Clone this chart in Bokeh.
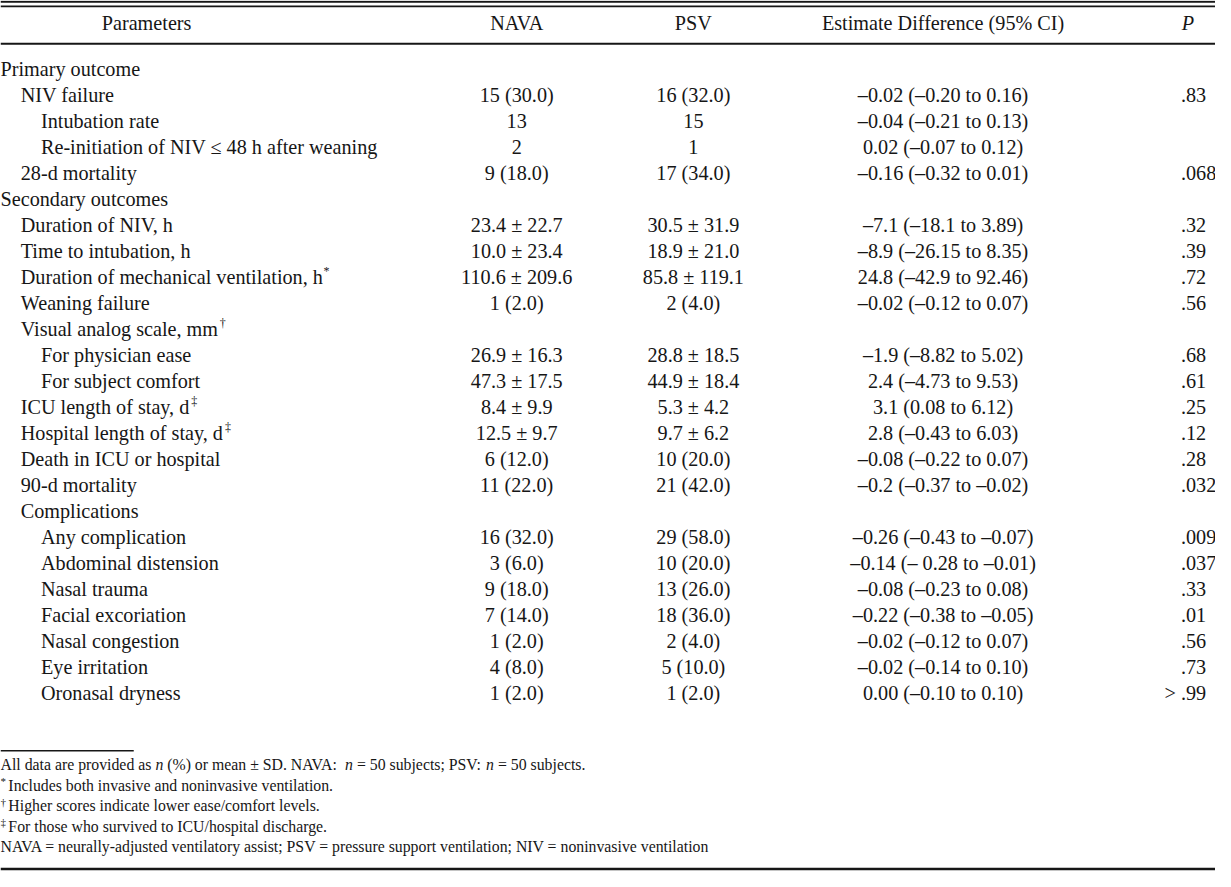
from bokeh.plotting import figure
from bokeh.models import Range1d, ColumnDataSource
from bokeh.embed import file_html
from bokeh.resources import INLINE
from bokeh.core.properties import value

# ---------------- data ----------------
headers = ["Parameters", "NAVA", "PSV", "Estimate Difference (95% CI)", "P"]

params = [
    "Primary outcome", "NIV failure", "Intubation rate",
    "Re-initiation of NIV \u2264 48 h after weaning", "28-d mortality",
    "Secondary outcomes", "Duration of NIV, h", "Time to intubation, h",
    "Duration of mechanical ventilation, h", "Weaning failure",
    "Visual analog scale, mm", "For physician ease", "For subject comfort",
    "ICU length of stay, d", "Hospital length of stay, d",
    "Death in ICU or hospital", "90-d mortality", "Complications",
    "Any complication", "Abdominal distension", "Nasal trauma",
    "Facial excoriation", "Nasal congestion", "Eye irritation",
    "Oronasal dryness",
]
levels = [0, 1, 2, 2, 1, 0, 1, 1, 1, 1, 1, 2, 2, 1, 1, 1, 1, 1, 2, 2, 2, 2, 2, 2, 2]
marks = ["", "", "", "", "", "", "", "", "*", "", "\u2020", "", "", "\u2021", "\u2021",
         "", "", "", "", "", "", "", "", "", ""]
nava = ["", "15 (30.0)", "13", "2", "9 (18.0)", "",
        "23.4 \u00b1 22.7", "10.0 \u00b1 23.4", "110.6 \u00b1 209.6", "1 (2.0)", "",
        "26.9 \u00b1 16.3", "47.3 \u00b1 17.5", "8.4 \u00b1 9.9", "12.5 \u00b1 9.7",
        "6 (12.0)", "11 (22.0)", "", "16 (32.0)", "3 (6.0)", "9 (18.0)",
        "7 (14.0)", "1 (2.0)", "4 (8.0)", "1 (2.0)"]
psv = ["", "16 (32.0)", "15", "1", "17 (34.0)", "",
       "30.5 \u00b1 31.9", "18.9 \u00b1 21.0", "85.8 \u00b1 119.1", "2 (4.0)", "",
       "28.8 \u00b1 18.5", "44.9 \u00b1 18.4", "5.3 \u00b1 4.2", "9.7 \u00b1 6.2",
       "10 (20.0)", "21 (42.0)", "", "29 (58.0)", "10 (20.0)", "13 (26.0)",
       "18 (36.0)", "2 (4.0)", "5 (10.0)", "1 (2.0)"]
est = ["", "\u20130.02 (\u20130.20 to 0.16)", "\u20130.04 (\u20130.21 to 0.13)",
       "0.02 (\u20130.07 to 0.12)", "\u20130.16 (\u20130.32 to 0.01)", "",
       "\u20137.1 (\u201318.1 to 3.89)", "\u20138.9 (\u201326.15 to 8.35)",
       "24.8 (\u201342.9 to 92.46)", "\u20130.02 (\u20130.12 to 0.07)", "",
       "\u20131.9 (\u20138.82 to 5.02)", "2.4 (\u20134.73 to 9.53)",
       "3.1 (0.08 to 6.12)", "2.8 (\u20130.43 to 6.03)",
       "\u20130.08 (\u20130.22 to 0.07)", "\u20130.2 (\u20130.37 to \u20130.02)", "",
       "\u20130.26 (\u20130.43 to \u20130.07)", "\u20130.14 (\u2013 0.28 to \u20130.01)",
       "\u20130.08 (\u20130.23 to 0.08)", "\u20130.22 (\u20130.38 to \u20130.05)",
       "\u20130.02 (\u20130.12 to 0.07)", "\u20130.02 (\u20130.14 to 0.10)",
       "0.00 (\u20130.10 to 0.10)"]
pvals = ["", ".83", "", "", ".068", "", ".32", ".39", ".72", ".56", "", ".68", ".61",
         ".25", ".12", ".28", ".032", "", ".009", ".037", ".33", ".01", ".56", ".73",
         "> .99"]

footnotes = [
    [("All data are provided as", "normal"), ("n", "italic"),
     ("(%) or mean \u00b1 SD. NAVA:", "normal"), ("n", "italic"),
     ("= 50 subjects; PSV:", "normal"), ("n", "italic"), ("= 50 subjects.", "normal")],
    [("*", "sup"), ("Includes both invasive and noninvasive ventilation.", "normal")],
    [("\u2020", "sup"), ("Higher scores indicate lower ease/comfort levels.", "normal")],
    [("\u2021", "sup"), ("For those who survived to ICU/hospital discharge.", "normal")],
    [("NAVA = neurally-adjusted ventilatory assist; PSV = pressure support ventilation; "
      "NIV = noninvasive ventilation", "normal")],
]

# ---------------- layout ----------------
W_REF, H_REF = 1231, 887
PW, PH = 1215, 871
SX = W_REF / PW
FONT = "Liberation Serif"
INK = "#161616"
BODY = 20.2
FOOT = 15.8
SUP = 12

# Times metrics (per 1000 em) for width estimates of inline segments
_w = {' ': 250, '(': 333, ')': 333, '*': 500, ',': 250, '-': 333, '.': 250, '/': 278,
      ':': 278, ';': 278, '=': 564, '%': 833, '>': 564, '\u00b1': 564, '\u2013': 500,
      '\u2264': 549, '\u2020': 500, '\u2021': 500}
for c in "0123456789":
    _w[c] = 500
for c, v in zip("ABCDEFGHIJKLMNOPQRSTUVWXYZ",
                [722, 667, 667, 722, 611, 556, 722, 722, 333, 389, 722, 611, 889, 722,
                 722, 556, 722, 667, 556, 611, 722, 722, 944, 722, 722, 611]):
    _w[c] = v
for c, v in zip("abcdefghijklmnopqrstuvwxyz",
                [444, 500, 444, 500, 444, 333, 500, 500, 278, 278, 500, 278, 778, 500,
                 500, 500, 500, 333, 389, 278, 500, 500, 722, 500, 500, 444]):
    _w[c] = v


def tw(s, size):
    return sum(_w.get(c, 500) for c in s) / 1000.0 * size * SX


p = figure(width=PW, height=PH, x_range=Range1d(0, W_REF), y_range=Range1d(H_REF, 0),
           output_backend="svg", toolbar_location=None, min_border=0,
           background_fill_color="white", border_fill_color="white")
p.axis.visible = False
p.grid.visible = False
p.outline_line_color = None

# rules
p.segment(x0=[0, 0, 0, 0, 0], x1=[W_REF, W_REF, W_REF, 135, W_REF],
          y0=[1.2, 6, 44, 764, 884.5], y1=[1.2, 6, 44, 764, 884.5],
          line_color=INK, line_width=[2, 1.6, 2, 1.5, 2.5])

# header
col_x = [148, 523, 702, 955, 1203]
HEAD_Y = 23
p.text(x=col_x[:4], y=[HEAD_Y] * 4, text=headers[:4], text_font=value(FONT),
       text_font_size=f"{BODY}px", text_align="center", text_baseline="middle",
       text_color=INK)
p.text(x=[col_x[4]], y=[HEAD_Y], text=[headers[4]], text_font=value(FONT),
       text_font_size=f"{BODY}px", text_font_style="italic", text_align="center",
       text_baseline="middle", text_color=INK)

# body
ROW0, ROWH = 70, 26.46
ys = [ROW0 + i * ROWH for i in range(len(params))]
xs = [lv * 20.5 for lv in levels]
src = ColumnDataSource(dict(x=xs, y=ys, t=params))
p.text(x="x", y="y", text="t", source=src, text_font=value(FONT),
       text_font_size=f"{BODY}px", text_align="left", text_baseline="middle",
       text_color=INK)

sx, sy, st = [], [], []
for x, y, t, m in zip(xs, ys, params, marks):
    if m:
        sx.append(x + tw(t, BODY) + 0.5)
        sy.append(y - 6)
        st.append(m)
p.text(x=sx, y=sy, text=st, text_font=value(FONT), text_font_size=f"{SUP}px",
       text_align="left", text_baseline="middle", text_color=INK)

for cx, col in zip(col_x[1:4], [nava, psv, est]):
    p.text(x=[cx] * len(col), y=ys, text=col, text_font=value(FONT),
           text_font_size=f"{BODY}px", text_align="center", text_baseline="middle",
           text_color=INK)

P_LEFT = 1196
px_ = []
for s in pvals:
    if s.startswith(">"):
        px_.append(P_LEFT - tw("> ", BODY))
    else:
        px_.append(P_LEFT)
p.text(x=px_, y=ys, text=pvals, text_font=value(FONT), text_font_size=f"{BODY}px",
       text_align="left", text_baseline="middle", text_color=INK)

# footnotes
FY0, FYH = 778, 21
for i, line in enumerate(footnotes):
    x = 0
    y = FY0 + i * FYH
    for k, (seg, style) in enumerate(line):
        if style == "sup":
            p.text(x=[x], y=[y - 4], text=[seg], text_font=value(FONT),
                   text_font_size="11px", text_align="left", text_baseline="middle",
                   text_color=INK)
            x += tw(seg, 11) + tw(" ", FOOT) * 0.6
        else:
            p.text(x=[x], y=[y], text=[seg], text_font=value(FONT),
                   text_font_size=f"{FOOT}px",
                   text_font_style="italic" if style == "italic" else "normal",
                   text_align="left", text_baseline="middle", text_color=INK)
            x += tw(seg, FOOT)
            nxt = line[k + 1][1] if k + 1 < len(line) else None
            if nxt is not None:
                x += tw(" ", FOOT)

open("out.html", "w").write(file_html(p, INLINE))
